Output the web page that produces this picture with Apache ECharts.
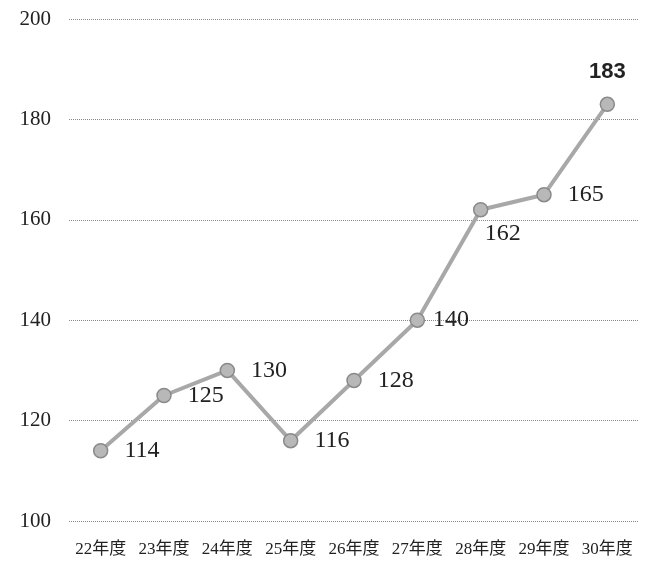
<!DOCTYPE html>
<html><head><meta charset="utf-8">
<script src="https://cdn.jsdelivr.net/npm/echarts@6/dist/echarts.min.js"></script>
<style>html,body{margin:0;padding:0;background:#fff}#c{width:646px;height:561px}</style>
</head><body><div id="c"></div>
<script>
const categories = ['22年度','23年度','24年度','25年度','26年度','27年度','28年度','29年度','30年度'];
const values = [114,125,130,116,128,140,162,165,183];
const yTicks = [100,120,140,160,180,200];

const serif = '"Liberation Serif","DejaVu Serif","Noto Sans CJK JP",serif';
const data = values.map((v,i)=>{
  const item = {value:v};
  if (i === values.length-1) {
    item.label = {position:'top', distance:14, fontFamily:'"Liberation Sans","Noto Sans CJK JP",sans-serif', fontWeight:'bold', fontSize:22};
  } else if (v === 162) {
    item.label = {position:'bottom', distance:4, offset:[22,0]};
  } else if (v === 140) {
    item.label = {distance:8};
  }
  return item;
});

const chart = echarts.init(document.getElementById('c'));
chart.setOption({
  animation:false,
  grid:{left:69,right:7,top:19,bottom:40,containLabel:false},
  xAxis:{type:'category',data:categories,boundaryGap:true,
    axisLine:{show:false},axisTick:{show:false},
    axisLabel:{interval:0,hideOverlap:false,color:'#222',fontSize:17,margin:20,fontFamily:serif}},
  yAxis:{type:'value',min:yTicks[0],max:yTicks[yTicks.length-1],interval:20,
    axisLine:{show:false},axisTick:{show:false},
    axisLabel:{color:'#222',fontSize:21,margin:18,fontFamily:serif},
    splitLine:{lineStyle:{type:'dotted',color:'#888',width:1}}},
  series:[{type:'line',data:data,symbol:'circle',symbolSize:14,
    lineStyle:{color:'#a8a8a8',width:4},
    itemStyle:{color:'#b8b8b8',borderColor:'#8a8a8a',borderWidth:1.5},
    label:{show:true,position:'right',distance:16,color:'#222',fontSize:24,fontFamily:serif}
  }]
});
</script></body></html>
